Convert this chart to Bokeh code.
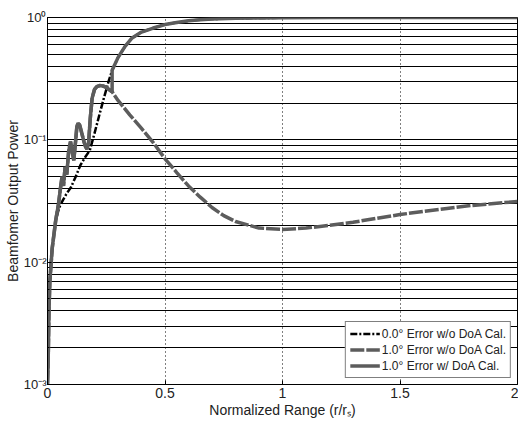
from bokeh.plotting import figure
from bokeh.models import CustomJSTickFormatter, FixedTicker, Legend, LegendItem
from bokeh.embed import file_html
from bokeh.resources import INLINE

# 0.0 deg error, without DoA calibration
x_err0 = [0, 0.003, 0.006, 0.01, 0.02, 0.035, 0.05, 0.065, 0.08, 0.1, 0.12, 0.14, 0.16, 0.18,
          0.2, 0.22, 0.24, 0.26, 0.275, 0.3, 0.33, 0.36, 0.4, 0.45, 0.5, 0.55, 0.6, 0.65, 0.7,
          0.8, 0.9, 1.0, 1.2, 1.5, 2.0]
y_err0 = [0.001, 0.0016, 0.0038, 0.007, 0.013, 0.022, 0.028, 0.032, 0.036, 0.041, 0.05, 0.062,
          0.072, 0.082, 0.113, 0.158, 0.22, 0.30, 0.37, 0.47, 0.58, 0.68, 0.76, 0.82, 0.875,
          0.91, 0.94, 0.96, 0.97, 0.985, 0.99, 0.995, 0.998, 1.0, 1.0]

# 1.0 deg error, without DoA calibration
x_err1 = [0, 0.003, 0.006, 0.01, 0.02, 0.035, 0.047, 0.055, 0.062, 0.068, 0.075, 0.082, 0.09,
          0.098, 0.105, 0.112, 0.12, 0.125, 0.13, 0.137, 0.145, 0.155, 0.162, 0.168, 0.175,
          0.182, 0.19, 0.2, 0.21, 0.222, 0.235, 0.25, 0.265, 0.275, 0.3, 0.35, 0.4, 0.45, 0.5,
          0.55, 0.6, 0.65, 0.7, 0.75, 0.8, 0.9, 1.0, 1.1, 1.2, 1.3, 1.4, 1.5, 1.6, 1.7, 1.8,
          1.9, 2.0]
y_err1 = [0.001, 0.0016, 0.0038, 0.007, 0.013, 0.022, 0.03, 0.04, 0.05, 0.042, 0.06, 0.052,
          0.08, 0.097, 0.08, 0.068, 0.1, 0.128, 0.137, 0.132, 0.115, 0.097, 0.088, 0.084, 0.095,
          0.15, 0.22, 0.258, 0.272, 0.278, 0.276, 0.268, 0.255, 0.247, 0.21, 0.16, 0.124, 0.095,
          0.07, 0.054, 0.042, 0.034, 0.028, 0.024, 0.0215, 0.019, 0.0185, 0.019, 0.02, 0.0212,
          0.0228, 0.0245, 0.026, 0.0275, 0.029, 0.0302, 0.0313]

# 1.0 deg error, with DoA calibration
x_cal = [0, 0.003, 0.006, 0.01, 0.02, 0.035, 0.047, 0.055, 0.062, 0.068, 0.075, 0.082, 0.09,
         0.098, 0.105, 0.112, 0.12, 0.125, 0.13, 0.137, 0.145, 0.155, 0.162, 0.168, 0.175,
         0.182, 0.19, 0.2, 0.21, 0.222, 0.235, 0.25, 0.265, 0.275, 0.275, 0.3, 0.33, 0.36, 0.4,
         0.45, 0.5, 0.55, 0.6, 0.65, 0.7, 0.8, 0.9, 1.0, 1.2, 1.5, 2.0]
y_cal = [0.001, 0.0016, 0.0038, 0.007, 0.013, 0.022, 0.03, 0.04, 0.05, 0.042, 0.06, 0.052,
         0.08, 0.097, 0.08, 0.068, 0.1, 0.128, 0.137, 0.132, 0.115, 0.097, 0.088, 0.084, 0.095,
         0.15, 0.22, 0.258, 0.272, 0.278, 0.276, 0.268, 0.255, 0.247, 0.37, 0.47, 0.58, 0.68,
         0.76, 0.82, 0.875, 0.91, 0.94, 0.96, 0.97, 0.985, 0.99, 0.995, 0.998, 1.0, 1.0]

x_ticks = [0, 0.5, 1, 1.5, 2]
legend_labels = ["0.0\u00b0 Error w/o DoA Cal.", "1.0\u00b0 Error w/o DoA Cal.",
                 "1.0\u00b0 Error w/ DoA Cal."]

FONT = "Liberation Sans"
GRAY = "#5c5c5c"

p = figure(width=518, height=423, y_axis_type="log", x_range=(0, 2), y_range=(1e-3, 1),
           output_backend="svg", toolbar_location=None,
           min_border_left=47, min_border_right=1, min_border_top=17, min_border_bottom=39)
p.background_fill_color = "white"
p.border_fill_color = "white"
p.outline_line_color = "black"
p.outline_line_width = 1

r0 = p.line(x_err0, y_err0, line_color="black", line_width=2.5, line_dash="7 2 2 2")
r1 = p.line(x_err1, y_err1, line_color=GRAY, line_width=3.5, line_dash="14 2")
r2 = p.line(x_cal, y_cal, line_color=GRAY, line_width=3.5)

# grids
p.xgrid.ticker = FixedTicker(ticks=x_ticks)
p.xgrid.grid_line_color = "black"
p.xgrid.grid_line_dash = "1 3"
p.xgrid.grid_line_width = 1
p.ygrid.grid_line_color = "black"
p.ygrid.grid_line_width = 1
p.ygrid.minor_grid_line_color = "black"
p.ygrid.minor_grid_line_width = 1

# axes
p.xaxis.ticker = FixedTicker(ticks=x_ticks)
p.xaxis.major_label_overrides = {0: "0", 0.5: "0.5", 1: "1", 1.5: "1.5", 2: "2"}
p.yaxis.formatter = CustomJSTickFormatter(code="""
const m = {"0": "10\u2070", "-1": "10\u207b\u00b9", "-2": "10\u207b\u00b2", "-3": "10\u207b\u00b3"};
const k = String(Math.round(Math.log10(tick)));
return (k in m) ? m[k] : "";
""")
for ax in (p.xaxis, p.yaxis):
    ax.axis_line_color = "black"
    ax.major_tick_line_color = "black"
    ax.major_tick_in = 4
    ax.major_tick_out = 0
    ax.minor_tick_in = 2
    ax.minor_tick_out = 0
    ax.major_label_text_font = FONT
    ax.major_label_text_color = "#222222"
    ax.axis_label_text_font = FONT
    ax.axis_label_text_font_size = "14px"
    ax.axis_label_text_font_style = "normal"
    ax.axis_label_text_color = "#222222"
p.xaxis.major_label_text_font_size = "14px"
p.yaxis.major_label_text_font_size = "13px"
p.xaxis.major_label_standoff = 3
p.yaxis.major_label_standoff = 1
p.xaxis.axis_label = "Normalized Range (r/r\u209b)"
p.yaxis.axis_label = "Beamfomer Output Power"
p.xaxis.axis_label_standoff = 1
p.yaxis.axis_label_standoff = 0

legend = Legend(items=[LegendItem(label=legend_labels[0], renderers=[r0]),
                       LegendItem(label=legend_labels[1], renderers=[r1]),
                       LegendItem(label=legend_labels[2], renderers=[r2])],
                location="bottom_right")
legend.border_line_color = "black"
legend.border_line_width = 1
legend.background_fill_color = "white"
legend.background_fill_alpha = 1
legend.label_text_font = FONT
legend.label_text_font_size = "12px"
legend.label_text_color = "#222222"
legend.glyph_width = 30
legend.glyph_height = 15
legend.label_height = 15
legend.label_standoff = 2
legend.padding = 4
legend.spacing = 1
legend.margin = 6
p.add_layout(legend)

open("out.html", "w").write(file_html(p, INLINE))
